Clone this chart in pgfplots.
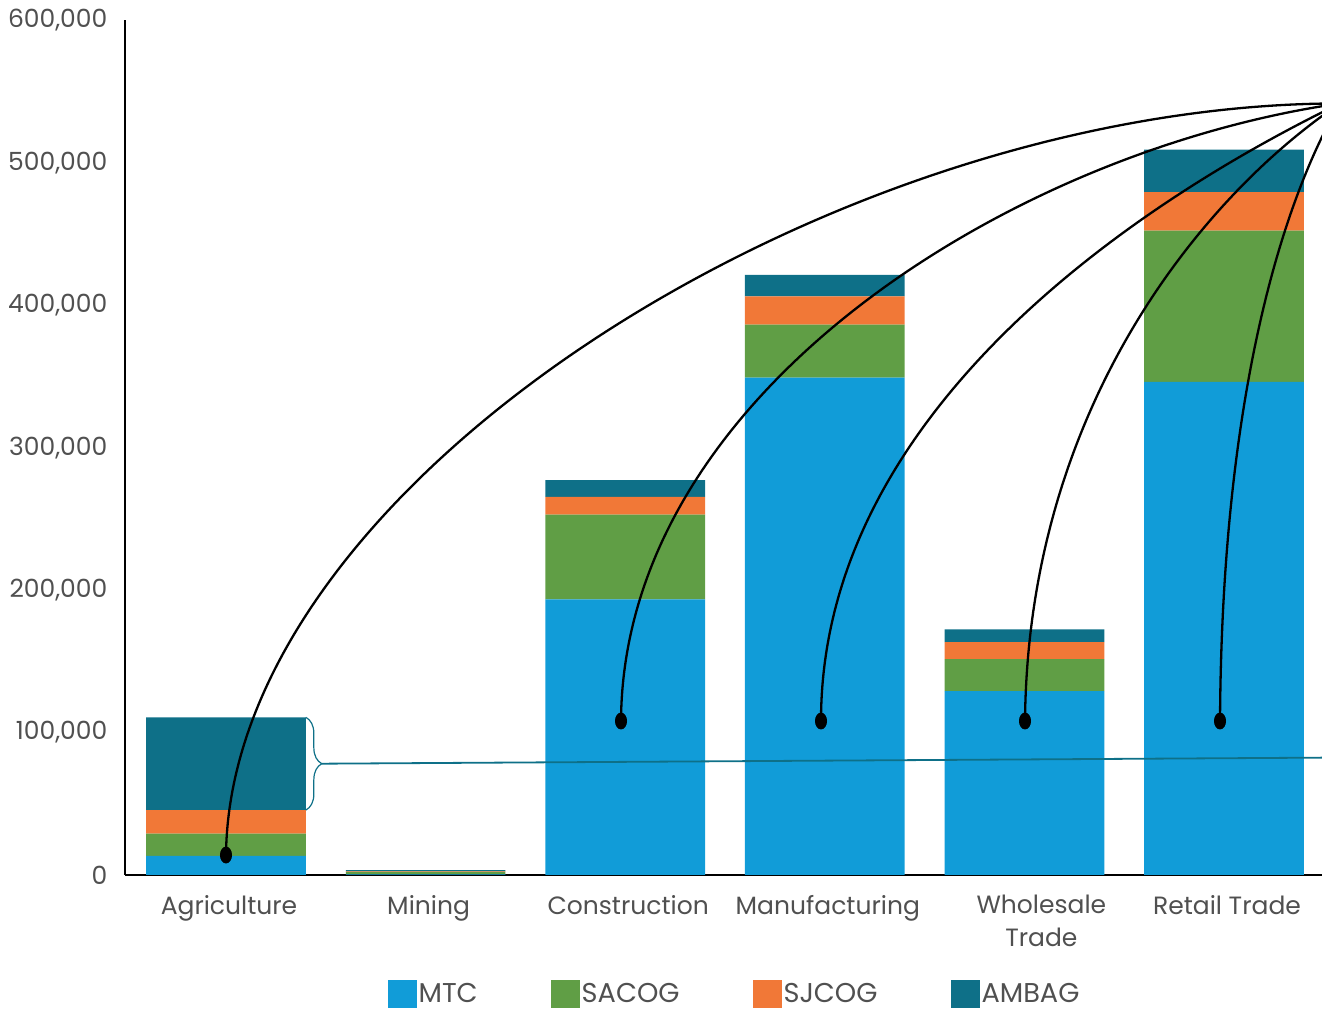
\documentclass[border=0pt]{standalone}
\usepackage{fontspec}
\setmainfont{Poppins}
\usepackage{pgfplots}
\usepackage{pgfplotstable}
\pgfplotsset{compat=1.18}
\usetikzlibrary{decorations.pathreplacing}

\definecolor{mtc}{RGB}{17,156,216}
\definecolor{sacog}{RGB}{96,158,69}
\definecolor{sjcog}{RGB}{241,120,55}
\definecolor{ambag}{RGB}{14,112,136}
\definecolor{labelgray}{RGB}{80,80,80}

% employment by industry and region
\pgfplotstableread{
x mtc    sacog  sjcog ambag
0 13500  15500  16600 65100
1 400    1800   300   1000
2 193500 59600  12400 11700
3 349300 37200  19800 15000
4 129100 22500  11900 8900
5 346200 106200 27100 29800
}\jobs

% callout dots on the bars
\pgfplotstableread{
x y
0     14000
1.979 108100
2.981 108100
4.003 108100
4.980 108100
}\dots

\pgfplotsset{
  legbox/.style={legend image code/.code={\fill[##1] (0pt,-7pt) rectangle (14.5pt,7pt);}},
  frame/.style={
    scale only axis,
    width=598.5pt, height=427.25pt,
    xmin=-0.506, xmax=5.491,
    ymin=0, ymax=600000,
    enlarge y limits=false,
  },
}

\begin{document}
\begin{tikzpicture}
\begin{axis}[
  frame,
  ybar stacked, bar width=0.8,
  axis x line*=bottom, axis y line*=left,
  axis line style={black, line width=1pt, -},
  major tick length=0pt,
  xtick={0,...,5},
  xticklabels={Agriculture, Mining, Construction, Manufacturing,
    \hspace*{14pt}Wholesale\\\hspace*{14pt}Trade, Retail Trade},
  ytick={0,100000,...,600000},
  scaled y ticks=false,
  /pgf/number format/fixed,
  /pgf/number format/1000 sep={,},
  /pgf/number format/assume math mode=true,
  tick label style={font=\fontsize{12.5}{16.5}\selectfont, text=labelgray},
  xticklabel style={align=center, yshift=-6.5pt, xshift=1.5pt},
  yticklabel style={xshift=-5.3pt},
  legend columns=4,
  legend style={at={(0.5092,0)}, anchor=center, yshift=-59.5pt,
    draw=none, fill=none, inner sep=0pt, outer sep=0pt,
    font=\fontsize{13.6}{16}\selectfont, text=labelgray,
    /tikz/every even column/.append style={column sep=35.5pt},
    nodes={inner xsep=1pt, inner ysep=0.5pt}},
]
\addplot[fill=mtc, draw=none, legbox] table[x=x, y=mtc]{\jobs};
\addlegendentry{MTC}
\addplot[fill=sacog, draw=none, legbox] table[x=x, y=sacog]{\jobs};
\addlegendentry{SACOG}
\addplot[fill=sjcog, draw=none, legbox] table[x=x, y=sjcog]{\jobs};
\addlegendentry{SJCOG}
\addplot[fill=ambag, draw=none, legbox] table[x=x, y=ambag]{\jobs};
\addlegendentry{AMBAG}
\end{axis}

% annotation layer on top of the bars
\begin{axis}[frame, hide axis, clip=true]
\draw[line width=1.15pt] (axis cs:0,14000) .. controls (axis cs:0.020,277200) and (axis cs:3.051,541750) .. (axis cs:5.581,541750);
\draw[line width=1.15pt] (axis cs:1.979,108100) .. controls (axis cs:1.989,339650) and (axis cs:3.948,508800) .. (axis cs:5.581,541750);
\draw[line width=1.15pt] (axis cs:2.981,108100) .. controls (axis cs:2.981,319300) and (axis cs:4.479,466660) .. (axis cs:5.581,541750);
\draw[line width=1.15pt] (axis cs:4.003,108100) .. controls (axis cs:4.018,333300) and (axis cs:4.930,480700) .. (axis cs:5.581,541750);
\draw[line width=1.15pt] (axis cs:4.980,108100) .. controls (axis cs:4.990,368400) and (axis cs:5.381,494700) .. (axis cs:5.581,541750);
\addplot[only marks, mark=*, mark size=4pt, black,
  mark options={xscale=0.7, fill=black, draw=black}]
  table[x=x, y=y]{\dots};

% brace over the AMBAG share of agriculture
\draw[ambag, line width=0.6pt, decorate, decoration={brace, amplitude=8pt}]
  (axis cs:0.4,110700) -- (axis cs:0.4,45600);
\draw[ambag, line width=0.9pt] (axis cs:0.481,78150) -- (axis cs:5.491,82400);
\end{axis}
\pgfresetboundingbox
\path[use as bounding box] ([xshift=-62.5pt,yshift=-67.5pt]current axis.south west)
  rectangle ([yshift=10.25pt]current axis.north east);
\end{tikzpicture}
\end{document}
